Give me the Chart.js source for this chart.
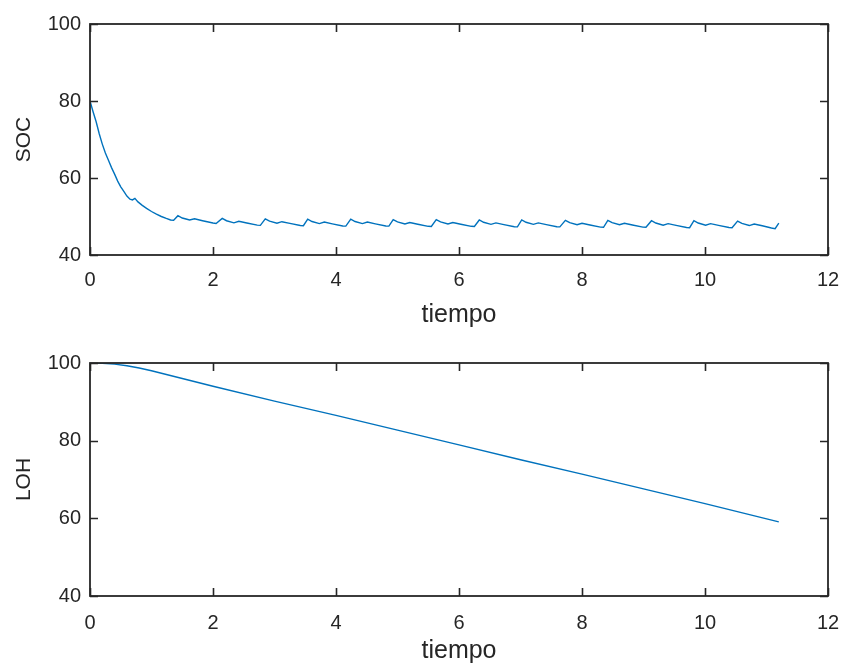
<!DOCTYPE html>
<html>
<head>
<meta charset="utf-8">
<script src="https://cdn.jsdelivr.net/npm/chart.js@4.4.1/dist/chart.umd.min.js"></script>
<style>
  html, body { margin: 0; padding: 0; background: #ffffff; }
  body { width: 844px; height: 666px; position: relative; overflow: hidden; }
  .c { position: absolute; left: 0; width: 844px; }
  #wrapA { top: 0; height: 340px; }
  #wrapB { top: 333px; height: 333px; }
</style>
</head>
<body>
<div id="wrapA" class="c"><canvas id="socChart" width="844" height="340"></canvas></div>
<div id="wrapB" class="c"><canvas id="lohChart" width="844" height="333"></canvas></div>
<script>
// ---- data ----
const xTicks = [0, 2, 4, 6, 8, 10, 12];
const yTicks = [40, 60, 80, 100];

const socTime = [
  0, 0.05, 0.1, 0.15, 0.2, 0.25, 0.3, 0.35, 0.4, 0.45, 0.5, 0.55, 0.6, 0.65, 0.69, 0.73, 0.78, 0.85, 0.92, 1.0, 1.08, 1.16, 1.24, 1.31, 1.36,
  1.43, 1.50, 1.62, 1.70, 1.83, 2.00, 2.05,
  2.15, 2.22, 2.34, 2.42, 2.55, 2.72, 2.77,
  2.85, 2.92, 3.04, 3.12, 3.25, 3.42, 3.47,
  3.54, 3.61, 3.73, 3.81, 3.94, 4.11, 4.16,
  4.24, 4.31, 4.43, 4.51, 4.64, 4.81, 4.86,
  4.93, 5.00, 5.12, 5.20, 5.33, 5.50, 5.55,
  5.63, 5.70, 5.82, 5.90, 6.03, 6.20, 6.25,
  6.33, 6.40, 6.52, 6.60, 6.73, 6.90, 6.95,
  7.02, 7.09, 7.21, 7.29, 7.42, 7.59, 7.64,
  7.73, 7.80, 7.92, 8.00, 8.13, 8.30, 8.35,
  8.42, 8.49, 8.61, 8.69, 8.82, 8.99, 9.04,
  9.13, 9.20, 9.32, 9.40, 9.53, 9.70, 9.75,
  9.82, 9.89, 10.01, 10.09, 10.22, 10.39, 10.44,
  10.53, 10.60, 10.72, 10.80, 10.93, 11.08, 11.14, 11.20
];
const socValues = [
  80, 77.2, 74.6, 71.5, 68.8, 66.5, 64.6, 62.7, 61.0, 59.2, 57.7, 56.5, 55.3, 54.5, 54.3, 54.7, 53.8, 52.9, 52.1, 51.3, 50.6, 50.0, 49.5, 49.1, 49.0,
  50.2, 49.6, 49.1, 49.4, 48.9, 48.3, 48.2,
  49.5, 48.9, 48.35, 48.75, 48.3, 47.75, 47.7,
  49.4, 48.8, 48.25, 48.65, 48.2, 47.65, 47.6,
  49.3, 48.7, 48.15, 48.55, 48.1, 47.55, 47.5,
  49.3, 48.7, 48.15, 48.55, 48.1, 47.55, 47.5,
  49.2, 48.6, 48.05, 48.45, 48.0, 47.45, 47.4,
  49.2, 48.6, 48.05, 48.45, 48.0, 47.45, 47.4,
  49.1, 48.5, 47.95, 48.35, 47.9, 47.35, 47.3,
  49.1, 48.5, 47.95, 48.35, 47.9, 47.35, 47.3,
  49.0, 48.4, 47.85, 48.25, 47.8, 47.25, 47.2,
  49.0, 48.4, 47.85, 48.25, 47.8, 47.25, 47.2,
  48.9, 48.3, 47.75, 48.15, 47.7, 47.15, 47.1,
  48.9, 48.3, 47.75, 48.15, 47.7, 47.15, 47.1,
  48.8, 48.2, 47.65, 48.05, 47.6, 47.0, 46.85, 48.3
];

const lohTime = [0, 0.2, 0.4, 0.6, 0.8, 1.0, 1.5, 2, 3, 4, 5, 6, 7, 8, 9, 10, 11.2];
const lohValues = [100, 99.95, 99.7, 99.3, 98.7, 98.0, 96.0, 94.0, 90.2, 86.5, 82.7, 78.9, 75.1, 71.4, 67.6, 63.8, 59.1];

// ---- styling ----
const FONT = "'Liberation Sans', Arial, Helvetica, sans-serif";
const AXIS_COLOR = '#262626';
const LINE_COLOR = '#0072BD';

const boxTicks = {
  id: 'boxTicks',
  afterDraw(chart) {
    const {ctx, chartArea: a, scales: {x, y}} = chart;
    const L = 8;
    ctx.save();
    ctx.strokeStyle = AXIS_COLOR;
    ctx.lineWidth = 1.6;
    ctx.beginPath();
    x.ticks.forEach(t => {
      const px = Math.round(x.getPixelForValue(t.value)) + 0.5;
      ctx.moveTo(px, a.bottom); ctx.lineTo(px, a.bottom - L);
      ctx.moveTo(px, a.top); ctx.lineTo(px, a.top + L);
    });
    y.ticks.forEach(t => {
      const py = Math.round(y.getPixelForValue(t.value)) + 0.5;
      ctx.moveTo(a.left, py); ctx.lineTo(a.left + L, py);
      ctx.moveTo(a.right, py); ctx.lineTo(a.right - L, py);
    });
    ctx.stroke();
    ctx.lineWidth = 1.8;
    ctx.strokeRect(a.left, a.top, a.right - a.left, a.bottom - a.top);
    ctx.restore();
  }
};

function makeChart(id, times, values, yLabel, cfg) {
  const pts = times.map((t, i) => ({x: t, y: values[i]}));
  return new Chart(document.getElementById(id), {
    type: 'line',
    data: { datasets: [{ data: pts, borderColor: LINE_COLOR, borderWidth: 1.4, pointRadius: 0, tension: 0, fill: false }] },
    options: {
      responsive: false,
      animation: false,
      events: [],
      layout: { padding: { top: cfg.top, right: 16, left: 0, bottom: 0 } },
      plugins: { legend: { display: false }, tooltip: { enabled: false } },
      scales: {
        x: {
          type: 'linear', min: 0, max: 12,
          afterBuildTicks(s) { s.ticks = xTicks.map(v => ({value: v})); },
          afterFit(s) { s.height = cfg.xHeight; s.paddingLeft = 0; s.paddingRight = 0; },
          grid: { display: false, drawTicks: false },
          border: { display: false },
          ticks: { color: AXIS_COLOR, font: { family: FONT, size: 20 }, padding: cfg.xTickPad, maxRotation: 0, autoSkip: false },
          title: { display: true, text: 'tiempo', color: AXIS_COLOR, font: { family: FONT, size: 25 }, padding: { top: 0, bottom: cfg.titlePad } }
        },
        y: {
          type: 'linear', min: 40, max: 100,
          afterBuildTicks(s) { s.ticks = yTicks.map(v => ({value: v})); },
          afterFit(s) { s.width = 90; s.paddingTop = 0; s.paddingBottom = 0; },
          grid: { display: false, drawTicks: false },
          border: { display: false },
          ticks: { color: AXIS_COLOR, font: { family: FONT, size: 20 }, padding: 9, autoSkip: false },
          title: { display: true, text: yLabel, color: AXIS_COLOR, font: { family: FONT, size: 21 }, padding: { top: 12, bottom: 0 } }
        }
      }
    },
    plugins: [boxTicks]
  });
}

makeChart('socChart', socTime, socValues, 'SOC', { top: 24, xHeight: 85, xTickPad: 13, titlePad: 10 });
makeChart('lohChart', lohTime, lohValues, 'LOH', { top: 30, xHeight: 70, xTickPad: 15, titlePad: 0 });
</script>
</body>
</html>
